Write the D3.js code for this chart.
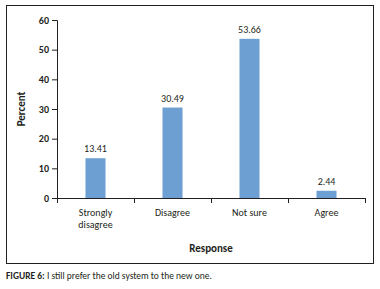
<!DOCTYPE html>
<html>
<head>
<meta charset="utf-8">
<script src="https://cdn.jsdelivr.net/npm/d3@7"></script>
<style>
  body { margin: 0; background: #fff; }
  text { font-family: Carlito, "Open Sans", sans-serif; fill: #231f20; }
</style>
</head>
<body>
<div id="chart"></div>
<script>
var categories = [["Strongly", "disagree"], ["Disagree"], ["Not sure"], ["Agree"]];
var values = [13.41, 30.49, 53.66, 2.44];
var yTicks = [0, 10, 20, 30, 40, 50, 60];

var width = 380, height = 289;
var margin = {top: 20, left: 57, right: 15, bottom: 91};

var svg = d3.select("#chart").append("svg")
    .attr("width", width)
    .attr("height", height);

// outer frame
svg.append("rect")
    .attr("x", 6.5).attr("y", 5.5)
    .attr("width", 367).attr("height", 258)
    .attr("fill", "none")
    .attr("stroke", "#231f20")
    .attr("stroke-width", 1);

var xScale = d3.scaleBand()
    .domain(d3.range(categories.length))
    .range([margin.left, width - margin.right])
    .paddingInner(0.74)
    .paddingOuter(0.37);

var yScale = d3.scaleLinear()
    .domain([0, 60])
    .range([198, 20]);

// y axis
var yAxis = svg.append("g")
    .attr("transform", "translate(" + margin.left + ",0)")
    .call(d3.axisLeft(yScale).tickValues(yTicks).tickSize(5).tickPadding(3));
yAxis.selectAll("path, line").attr("stroke", "#231f20");
yAxis.selectAll("text").attr("font-size", 10).attr("font-weight", "bold")
    .style("font-family", "Carlito, 'Open Sans', sans-serif");

// x axis with ticks at band boundaries
var xAxisG = svg.append("g");
xAxisG.append("line")
    .attr("x1", margin.left).attr("x2", width - margin.right)
    .attr("y1", yScale(0) + 0.5).attr("y2", yScale(0) + 0.5)
    .attr("stroke", "#231f20");
d3.range(categories.length + 1).forEach(function(i) {
    var x = Math.round(margin.left + i * (width - margin.right - margin.left) / categories.length) + 0.5;
    xAxisG.append("line")
        .attr("x1", x).attr("x2", x)
        .attr("y1", yScale(0)).attr("y2", yScale(0) + 5)
        .attr("stroke", "#231f20");
});

// bars
svg.selectAll("rect.bar")
    .data(values)
    .enter()
    .append("rect")
    .attr("class", "bar")
    .attr("x", function(d, i) { return xScale(i); })
    .attr("y", function(d) { return yScale(d); })
    .attr("width", xScale.bandwidth())
    .attr("height", function(d) { return yScale(0) - yScale(d); })
    .attr("fill", "#6d9fd2");

// value labels
svg.selectAll("text.val")
    .data(values)
    .enter()
    .append("text")
    .attr("class", "val")
    .attr("x", function(d, i) { return xScale(i) + xScale.bandwidth() / 2; })
    .attr("y", function(d) { return yScale(d) - 6; })
    .attr("text-anchor", "middle")
    .attr("font-size", 10)
    .text(function(d) { return d.toFixed(2); });

// category labels
categories.forEach(function(lines, i) {
    var t = svg.append("text")
        .attr("x", xScale(i) + xScale.bandwidth() / 2)
        .attr("y", 216)
        .attr("text-anchor", "middle")
        .attr("font-size", 10);
    lines.forEach(function(l, j) {
        t.append("tspan")
            .attr("x", xScale(i) + xScale.bandwidth() / 2)
            .attr("dy", j === 0 ? 0 : 12)
            .text(l);
    });
});

// axis titles
svg.append("text")
    .attr("x", (margin.left + width - margin.right) / 2)
    .attr("y", 252)
    .attr("text-anchor", "middle")
    .attr("font-size", 11)
    .attr("font-weight", "bold")
    .text("Response");

svg.append("text")
    .attr("transform", "rotate(-90)")
    .attr("x", -109)
    .attr("y", 25)
    .attr("text-anchor", "middle")
    .attr("font-size", 11)
    .attr("font-weight", "bold")
    .text("Percent");

// caption
var cap = svg.append("text")
    .attr("x", 6)
    .attr("y", 279)
    .attr("font-size", 9.5);
cap.append("tspan").attr("font-weight", "bold").text("FIGURE 6: ");
cap.append("tspan").text("I still prefer the old system to the new one.");
</script>
</body>
</html>
